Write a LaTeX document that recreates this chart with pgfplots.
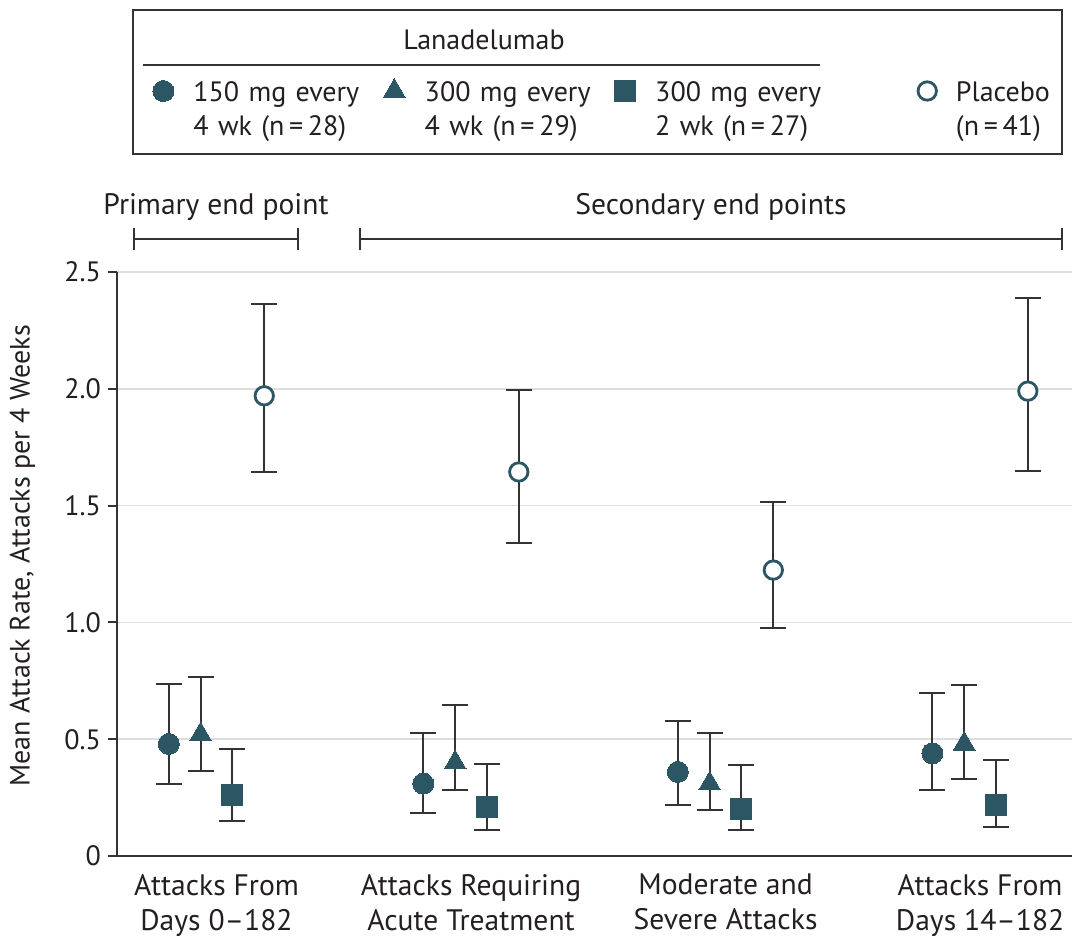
\documentclass[border=0pt]{standalone}
\usepackage{pgfplots}
\pgfplotsset{compat=1.18}
\usepackage{pgfplotstable}
\usepackage{fontspec}
\setmainfont{PT Sans}
\definecolor{mteal}{HTML}{2D5664}
\definecolor{ink}{HTML}{333333}
\definecolor{gridc}{HTML}{DDDDDD}
\definecolor{txt}{HTML}{231F20}
\pgfplotsset{plimg/.style={legend image code/.code={\path (-40.8pt,1pt); \draw[##1] plot coordinates {(0pt,1pt)};}}}

% x  y  lo  hi
\pgfplotstableread{
x y lo hi
-0.1875 0.48 0.307 0.737
0.8125 0.31 0.183 0.526
1.8125 0.36 0.217 0.580
2.8125 0.44 0.281 0.696
}\circdata
\pgfplotstableread{
x y lo hi
-0.0625 0.52 0.362 0.767
0.9375 0.40 0.281 0.648
1.9375 0.31 0.199 0.527
2.9375 0.48 0.328 0.732
}\tridata
\pgfplotstableread{
x y lo hi
0.0625 0.26 0.149 0.460
1.0625 0.21 0.110 0.395
2.0625 0.20 0.110 0.388
3.0625 0.22 0.125 0.409
}\sqdata
\pgfplotstableread{
x y lo hi
0.1875 1.97 1.644 2.363
1.1875 1.644 1.340 1.995
2.1875 1.224 0.976 1.515
3.1875 1.99 1.647 2.389
}\pldata

\begin{document}
\begin{tikzpicture}[font=\fontsize{14}{17}\selectfont, text=txt]
\useasboundingbox (0,0) rectangle (536pt,-469pt);
\begin{axis}[
  at={(58.5pt,-428pt)}, anchor=south west,
  scale only axis, width=477.5pt, height=292pt,
  xmin=-0.391, xmax=3.361, ymin=0, ymax=2.5,
  axis x line*=bottom, axis y line*=left,
  axis line style={ink, line width=1pt},
  ytick={0,0.5,1,1.5,2,2.5},
  yticklabels={0,0.5,1.0,1.5,2.0,2.5},
  xtick={0,1,2,3},
  xticklabels={{Attacks From\\Days 0--182},{Attacks Requiring\\Acute Treatment},{Moderate and\\Severe Attacks},{Attacks From\\Days 14--182}},
  xticklabel style={align=center, text=txt, font=\fontsize{14.8}{17.5}\selectfont, yshift=-1pt},
  yticklabel style={text=txt},
  x tick style={draw=none},
  y tick style={ink, line width=1pt},
  tick align=outside, major tick length=4.5pt,
  ymajorgrids, grid style={gridc, line width=0.75pt},
  ylabel={Mean Attack Rate, Attacks per 4 Weeks},
  every axis y label/.style={at={(axis description cs:-0.099,0.514)}, rotate=90, anchor=center},
  /pgf/number format/assume math mode=true,
  legend columns=4,
  legend cell align=left,
  legend image code/.code={\draw[#1] plot coordinates {(0pt,1pt)};},
  legend style={draw=none, fill=none, inner sep=0pt,
    at={(axis description cs:0.0372,1.3322)}, anchor=north west,
    nodes={inner sep=0pt, text width=95pt, align=left, text=txt},
    /tikz/every odd column/.append style={column sep=9.75pt}},
  error bars/y dir=both,
  error bars/y explicit,
  error bars/error bar style={ink, line width=1pt},
  error bars/error mark options={rotate=90, mark size=6.5pt, ink, line width=1pt},
]
\addplot[only marks, mark=*, mark size=5.25pt, mark options={fill=mteal, draw=mteal, line width=0pt}]
  table[x=x, y=y, y error plus expr=\thisrow{hi}-\thisrow{y}, y error minus expr=\thisrow{y}-\thisrow{lo}] {\circdata};
\addlegendentry{150 mg every\\4 wk (n\,=\,28)}
\addplot[only marks, mark=triangle*, mark size=6.3pt, mark options={fill=mteal, draw=mteal, line width=0pt}]
  table[x=x, y=y, y error plus expr=\thisrow{hi}-\thisrow{y}, y error minus expr=\thisrow{y}-\thisrow{lo}] {\tridata};
\addlegendentry{300 mg every\\4 wk (n\,=\,29)}
\addplot[only marks, mark=square*, mark size=5.25pt, mark options={fill=mteal, draw=mteal, line width=0pt}]
  table[x=x, y=y, y error plus expr=\thisrow{hi}-\thisrow{y}, y error minus expr=\thisrow{y}-\thisrow{lo}] {\sqdata};
\addlegendentry{300 mg every\\2 wk (n\,=\,27)}
\addplot[only marks, mark=*, mark size=4.6pt, mark options={fill=white, draw=mteal, line width=1.4pt}, plimg]
  table[x=x, y=y, y error plus expr=\thisrow{hi}-\thisrow{y}, y error minus expr=\thisrow{y}-\thisrow{lo}] {\pldata};
\addlegendentry{Placebo\\(n\,=\,41)}
\end{axis}
\begin{scope}[x=0.5pt, y=-0.5pt]
  \draw[ink, line width=1pt] (133,10) rectangle (1062,154);
  \node at (484,40) {Lanadelumab};
  \draw[ink, line width=0.6pt] (143,65) -- (820,65);
  \node[font=\fontsize{14.8}{17}\selectfont] at (216,207) {Primary end point};
  \node[font=\fontsize{14.8}{17}\selectfont] at (711,207) {Secondary end points};
  \draw[ink, line width=1pt] (134,239) -- (298,239) (134,228) -- (134,250) (298,228) -- (298,250);
  \draw[ink, line width=1pt] (360,239) -- (1062,239) (360,228) -- (360,250) (1062,228) -- (1062,250);
\end{scope}
\end{tikzpicture}
\end{document}
